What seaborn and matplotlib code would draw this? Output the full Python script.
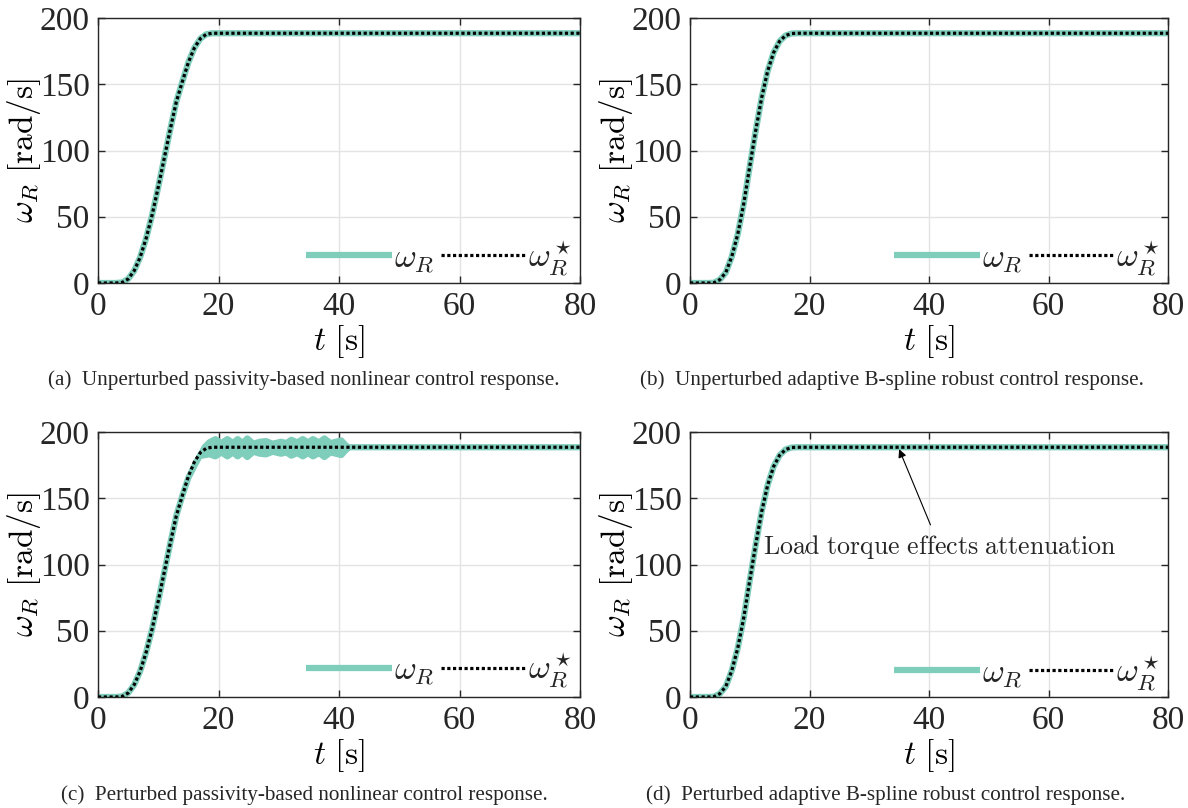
import numpy as np
import pandas as pd
import matplotlib
matplotlib.use("Agg")
import matplotlib.pyplot as plt
import seaborn as sns

# ---------------- data ----------------
# passivity-based (a, c): time [s] and reference / measured speed [rad/s]
t_pb = [0, 1, 2, 3, 4, 5, 6, 7, 8, 9, 10, 11, 12, 13, 14, 15, 16, 17, 18, 19, 20, 80]
wref_pb = [0, 0, 0, 0, 0.4, 3.0, 9.2, 19.5, 33.9, 51.7, 72.4, 94.3, 116.1, 136.8,
           152.0, 166.5, 177.5, 184.5, 187.8, 188.5, 188.5, 188.5]
w_pb_unpert = [0, 0, 0, 0, 0.4, 3.0, 9.2, 19.5, 33.9, 51.7, 72.4, 94.3, 116.1, 136.8,
               152.0, 166.5, 177.5, 184.5, 187.8, 188.5, 188.5, 188.5]
w_pb_pert = [0, 0, 0, 0, 0.4, 3.0, 9.2, 19.5, 33.9, 51.7, 72.4, 94.3, 116.1, 136.8,
             152.0, 165.5, 174.5, 183.0, 187.8, 188.5, 188.5, 188.5]

# oscillation envelope of the perturbed passivity-based response (c)
t_osc = [17.0, 17.6, 18.4, 19.4, 20.4, 21.4, 22.3, 23.1, 23.9, 24.7, 25.7, 26.8,
         27.8, 28.9, 30.3, 31.2, 32.0, 33.0, 33.9, 34.8, 35.6, 36.6, 37.5, 38.5,
         39.4, 40.3, 41.0, 41.5]
amp_osc = [0.5, 3.0, 4.5, 6.5, 3.5, 6.5, 3.5, 6.5, 3.5, 7.0, 3.0, 4.5,
           5.0, 3.0, 4.5, 3.5, 6.0, 4.0, 6.5, 4.0, 6.5, 4.0, 7.0, 3.5,
           4.5, 5.5, 2.0, 0.0]

# adaptive B-spline (b, d)
t_bs = [0, 1, 2, 3, 4, 5, 6, 7, 8, 9, 10, 11, 12, 13, 14, 15, 16, 17, 18, 80]
wref_bs = [0, 0, 0, 0, 0.2, 2.5, 8, 20, 37, 60, 88, 115, 140, 160, 174, 182.5,
           186.8, 188.3, 188.5, 188.5]
w_bs_unpert = [0, 0, 0, 0, 0.2, 2.5, 8, 20, 37, 60, 88, 115, 140, 160, 174, 182.5,
               186.8, 188.3, 188.5, 188.5]
w_bs_pert = [0, 0, 0, 0, 0.2, 2.5, 8, 20, 37, 60, 88, 115, 140, 160, 174, 182.5,
             186.8, 188.3, 188.5, 188.5]

x_ticks = [0, 20, 40, 60, 80]
y_ticks = [0, 50, 100, 150, 200]
captions = [
    "(a)  Unperturbed passivity-based nonlinear control response.",
    "(b)  Unperturbed adaptive B-spline robust control response.",
    "(c)  Perturbed passivity-based nonlinear control response.",
    "(d)  Perturbed adaptive B-spline robust control response.",
]
annot_text = r"$\mathrm{Load\ torque\ effects\ attenuation}$"

# ---------------- style ----------------
sns.set_style("ticks")
plt.rcParams["font.family"] = ["Liberation Serif", "DejaVu Serif"]
plt.rcParams["mathtext.fontset"] = "cm"

TEAL = "#7FCDBB"
SPINE = "#262626"
DOT = (0, (1, 0.8))

fig = plt.figure(figsize=(11.88, 8.08), dpi=100)

W = 1188.0
H = 808.0
def box(l, t, r, b):
    return [l / W, 1 - b / H, (r - l) / W, (b - t) / H]

axes_boxes = [box(98, 18, 580, 283), box(690, 18, 1168, 283),
              box(98, 432, 580, 697), box(690, 432, 1168, 697)]

datasets = [
    (t_pb, wref_pb, w_pb_unpert),
    (t_bs, wref_bs, w_bs_unpert),
    (t_pb, wref_pb, w_pb_pert),
    (t_bs, wref_bs, w_bs_pert),
]

cap_pos = [(304, 380), (892, 380), (304, 795), (886, 795)]
leg_y = [0.095, 0.095, 0.10, 0.09]

for i, (bx, (tt, wref, wr)) in enumerate(zip(axes_boxes, datasets)):
    ax = fig.add_axes(bx)
    ax.set_axisbelow(True)
    ax.grid(True, color="#e3e3e3", lw=1.0)
    if i == 2:
        center = np.interp(t_osc, tt, wr)
        pc = ax.fill_between(t_osc, center - np.array(amp_osc), center + np.array(amp_osc),
                             color=TEAL, edgecolor=TEAL, lw=4.5, zorder=2)
        pc.set_joinstyle("round")
    df = pd.DataFrame({"t": tt, "wr": wr, "wref": wref})
    sns.lineplot(data=df, x="t", y="wr", ax=ax, color=TEAL, lw=4.5,
                 label=r"$\omega_R$", zorder=2, sort=False,
                 solid_capstyle="butt")
    sns.lineplot(data=df, x="t", y="wref", ax=ax, color="black", lw=2.3,
                 linestyle=DOT, label=r"$\omega_R^\star$", zorder=3, sort=False)
    ax.set_xlim(0, 80)
    ax.set_ylim(0, 200)
    ax.set_xticks(x_ticks)
    ax.set_yticks(y_ticks)
    ax.tick_params(direction="in", length=5, width=1, labelsize=24, colors=SPINE,
                   top=True, right=True, pad=6)
    for sp in ax.spines.values():
        sp.set_visible(True)
        sp.set_color(SPINE)
        sp.set_linewidth(1.0)
    ax.set_xlabel(r"$t\ \mathrm{[s]}$", fontsize=24, color="black")
    ax.set_ylabel(r"$\omega_R\ \mathrm{[rad/s]}$", fontsize=24, color="black")
    ax.yaxis.set_label_coords(-0.115, 0.5)
    ax.xaxis.set_label_coords(0.5, -0.15)
    leg = ax.legend(loc="center right", bbox_to_anchor=(0.985, leg_y[i]), ncol=2,
                    frameon=False, fontsize=24, handlelength=2.58,
                    handletextpad=0.05, columnspacing=0.2, borderpad=0,
                    borderaxespad=0)
    for h in leg.get_lines():
        h.set_solid_capstyle("butt")
    if i == 3:
        ax.annotate(annot_text, xy=(35.0, 187.0), xytext=(12.2, 113),
                    fontsize=18.6, ha="left", va="center",
                    arrowprops=dict(arrowstyle="-|>", color="black", lw=0.8,
                                    mutation_scale=12, shrinkA=4, shrinkB=0))
    cx, cy = cap_pos[i]
    fig.text(cx / W, 1 - cy / H, captions[i], ha="center", va="center", fontsize=15.2)

fig.savefig("out.png", dpi=100)
